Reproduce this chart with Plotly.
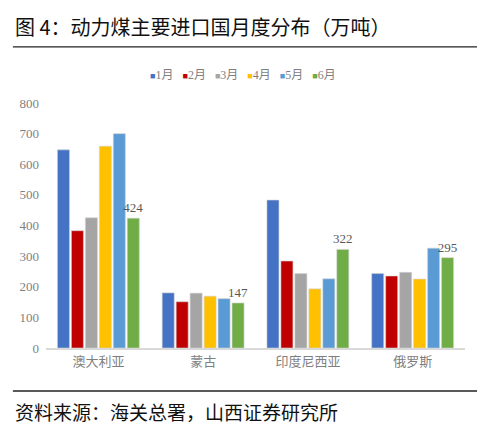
import plotly.graph_objects as go

# Data (万吨)
countries = ['澳大利亚', '蒙古', '印度尼西亚', '俄罗斯']
months = ['1月', '2月', '3月', '4月', '5月', '6月']
jan = [647, 180, 483, 243]
feb = [383, 151, 284, 235]
mar = [425, 179, 243, 247]
apr = [659, 169, 193, 225]
may = [700, 161, 226, 326]
jun = [424, 147, 322, 295]
colors = ['#4472C4', '#C00000', '#A5A5A5', '#FFC000', '#5B9BD5', '#70AD47']

series = [jan, feb, mar, apr, may, jun]

serif = 'Times New Roman, Liberation Serif, Noto Sans CJK SC'
cjk = 'Noto Sans CJK SC'

fig = go.Figure()
for i, vals in enumerate(series):
    fig.add_trace(go.Bar(
        x=countries, y=vals, name=months[i],
        marker=dict(color=colors[i], line=dict(color='#D0D0D0', width=0.6)),
        text=vals if i == 5 else None,
        textposition='outside' if i == 5 else None,
        textfont=dict(family=serif, size=13, color='#595959'),
        constraintext='none',
        cliponaxis=False,
    ))

# compact legend like the Excel one: small coloured squares next to the labels
legend_text = '&nbsp;&nbsp;&nbsp;'.join(
    f'<span style="color:{c}; font-size:9px">■</span>{m}' for c, m in zip(colors, months)
)

fig.update_layout(
    width=485, height=424,
    margin=dict(l=38, r=28, t=95, b=84),
    paper_bgcolor='white', plot_bgcolor='white',
    barmode='group', bargap=0.2, bargroupgap=0.14,
    showlegend=False,
    xaxis=dict(showline=True, linecolor='#D9D9D9', linewidth=2, ticks='',
               tickfont=dict(family=serif, size=13, color='#7F7F7F')),
    yaxis=dict(range=[0, 800], dtick=100, showgrid=False, zeroline=False,
               ticklabelstandoff=6,
               tickfont=dict(family=serif, size=13, color='#7F7F7F')),
    shapes=[
        dict(type='line', xref='paper', yref='paper', x0=-0.079, x1=1.055,
             y0=1.229, y1=1.229, line=dict(color='#222222', width=1.3)),
        dict(type='line', xref='paper', yref='paper', x0=-0.079, x1=1.055,
             y0=-0.1755, y1=-0.1755, line=dict(color='#222222', width=1.3)),
    ],
    annotations=[
        dict(text='图 4：动力煤主要进口国月度分布（万吨）', xref='paper', yref='paper',
             x=-0.079, y=1.314, xanchor='left', yanchor='middle', showarrow=False,
             font=dict(family=cjk, size=20, color='#111111')),
        dict(text=legend_text, xref='paper', yref='paper',
             x=0.47, y=1.114, xanchor='center', yanchor='middle', showarrow=False,
             font=dict(family=serif, size=12, color='#7F7F7F')),
        dict(text='资料来源：海关总署，山西证券研究所', xref='paper', yref='paper',
             x=-0.079, y=-0.26, xanchor='left', yanchor='middle', showarrow=False,
             font=dict(family=cjk, size=19, color='#111111')),
    ],
)

fig.write_html('out.html')
